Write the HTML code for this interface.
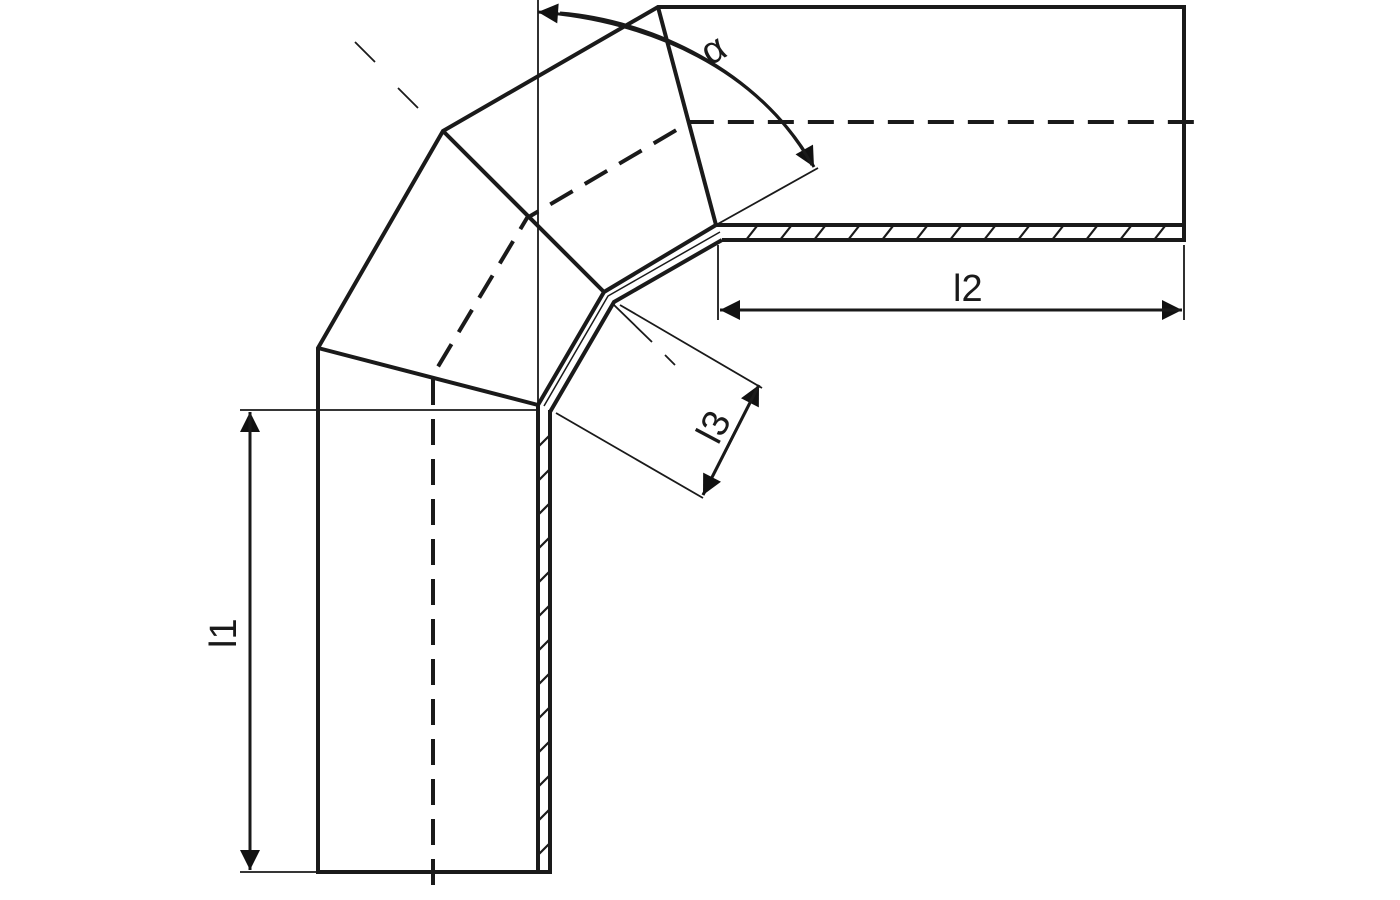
<!DOCTYPE html>
<html><head><meta charset="utf-8"><style>html,body{margin:0;padding:0;background:#fff}svg{display:block}</style></head>
<body>
<svg width="1400" height="900" viewBox="0 0 1400 900" xmlns="http://www.w3.org/2000/svg">
<defs>
<marker id="ar" viewBox="0 0 10 10" refX="10" refY="5" markerWidth="26" markerHeight="20" markerUnits="userSpaceOnUse" orient="auto"><path d="M0,0 L10,5 L0,10 z" fill="#111"/></marker>
</defs>
<g fill="none" stroke="#1a1a1a" stroke-linejoin="miter">
<g stroke-width="1.8">
<line x1="538" y1="0" x2="538" y2="405"/>
<line x1="240" y1="410" x2="538" y2="410"/>
<line x1="240" y1="872" x2="318" y2="872"/>
<line x1="718" y1="245" x2="718" y2="320"/>
<line x1="1184" y1="245" x2="1184" y2="320"/>
<line x1="556" y1="413" x2="703" y2="498"/>
<line x1="620" y1="305" x2="762" y2="388"/>
<line x1="716" y1="225" x2="818" y2="168"/>
<line x1="355" y1="42" x2="375" y2="62"/>
<line x1="398" y1="88" x2="418" y2="108"/>
<line x1="614" y1="305" x2="652" y2="342"/>
<line x1="665" y1="355" x2="675" y2="365"/>
</g>
<g stroke-width="3">
<line x1="250" y1="868" x2="250" y2="412" marker-end="url(#ar)"/>
<line x1="250" y1="414" x2="250" y2="870" marker-end="url(#ar)"/>
<line x1="726" y1="310" x2="1182" y2="310" marker-end="url(#ar)"/>
<line x1="1180" y1="310" x2="720" y2="310" marker-end="url(#ar)"/>
<line x1="703" y1="495" x2="759" y2="385" marker-end="url(#ar)"/>
<line x1="759" y1="385" x2="703" y2="495" marker-end="url(#ar)"/>
<path d="M560,13 C650,20 760,70 814,167" marker-end="url(#ar)"/>
<path d="M812,165 C760,70 650,20 538,12" marker-end="url(#ar)"/>
</g>
<g stroke-width="4">
<polyline points="550,410 550,872 318,872 318,348 443,131 658,7 1184,7 1184,240 722,240"/>
<line x1="318" y1="348" x2="538" y2="405"/>
<line x1="443" y1="131" x2="604" y2="292"/>
<line x1="658" y1="7" x2="716" y2="225"/>
<polyline points="538,872 538,405 604,292 716,225 1184,225"/>
<polyline points="550,412 614,302 722,240"/>
<polyline points="544,406 608,296 720,232" stroke-width="1.5"/>
</g>
<g stroke-width="4" stroke-dasharray="26,14">
<polyline points="433,885 433,375 527,218 690,122 1200,122"/>
</g>
<g stroke-width="2.2">
<line x1="538" y1="447" x2="550" y2="435"/>
<line x1="538" y1="481" x2="550" y2="469"/>
<line x1="538" y1="515" x2="550" y2="503"/>
<line x1="538" y1="549" x2="550" y2="537"/>
<line x1="538" y1="583" x2="550" y2="571"/>
<line x1="538" y1="617" x2="550" y2="605"/>
<line x1="538" y1="651" x2="550" y2="639"/>
<line x1="538" y1="685" x2="550" y2="673"/>
<line x1="538" y1="719" x2="550" y2="707"/>
<line x1="538" y1="753" x2="550" y2="741"/>
<line x1="538" y1="787" x2="550" y2="775"/>
<line x1="538" y1="821" x2="550" y2="809"/>
<line x1="538" y1="855" x2="550" y2="843"/>
<line x1="746" y1="240" x2="757" y2="226"/>
<line x1="780" y1="240" x2="791" y2="226"/>
<line x1="814" y1="240" x2="825" y2="226"/>
<line x1="848" y1="240" x2="859" y2="226"/>
<line x1="882" y1="240" x2="893" y2="226"/>
<line x1="916" y1="240" x2="927" y2="226"/>
<line x1="950" y1="240" x2="961" y2="226"/>
<line x1="984" y1="240" x2="995" y2="226"/>
<line x1="1018" y1="240" x2="1029" y2="226"/>
<line x1="1052" y1="240" x2="1063" y2="226"/>
<line x1="1086" y1="240" x2="1097" y2="226"/>
<line x1="1120" y1="240" x2="1131" y2="226"/>
<line x1="1154" y1="240" x2="1165" y2="226"/>
</g>
</g>
<g font-family="Liberation Sans, sans-serif" font-size="38" fill="#1a1a1a">
<text x="953" y="301">l2</text>
<text transform="translate(236,648) rotate(-90)">l1</text>
<text transform="translate(718,446) rotate(-62)">l3</text>
<text transform="translate(710,66) rotate(-30)" font-size="38">α</text>
</g>
</svg>
</body></html>
